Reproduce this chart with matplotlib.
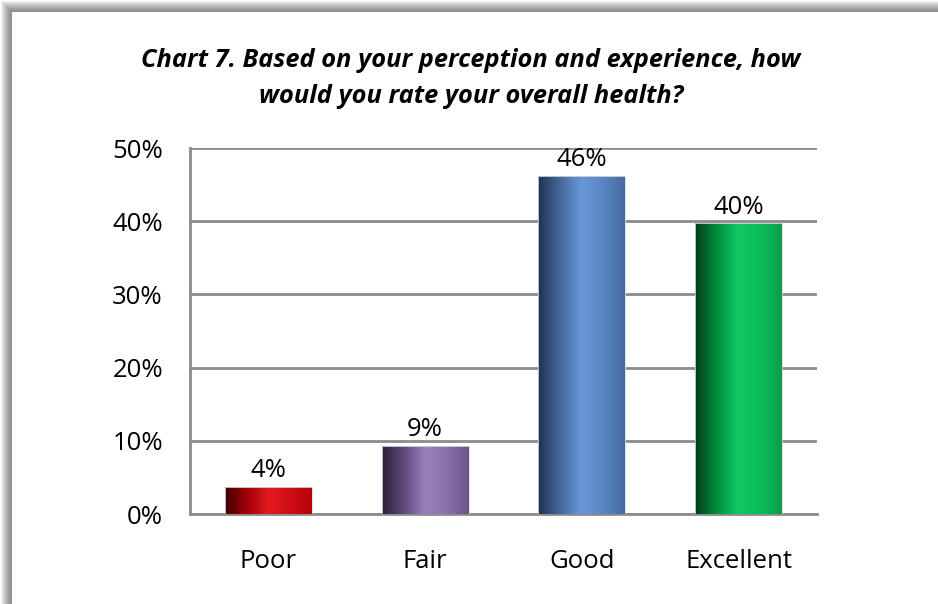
import numpy as np
import matplotlib
matplotlib.use("Agg")
import matplotlib.pyplot as plt
from matplotlib.colors import LinearSegmentedColormap

categories = ["Poor", "Fair", "Good", "Excellent"]
values = [3.7, 9.3, 46.2, 39.7]
labels = ["4%", "9%", "46%", "40%"]
yticks = [0, 10, 20, 30, 40, 50]
ytick_labels = ["0%", "10%", "20%", "30%", "40%", "50%"]
title_lines = ["Chart 7. Based on your perception and experience, how",
               "would you rate your overall health?"]

gradients = [
    ["#3e0000", "#a00008", "#e41a1c", "#d01016", "#b8000c"],
    ["#2a2038", "#5e4a7c", "#9a80be", "#8a70ac", "#6a5488"],
    ["#1e3350", "#44689c", "#6898d8", "#5a86c4", "#46699e"],
    ["#003a16", "#009040", "#12c864", "#0cbc58", "#08a04a"],
]

W, H = 938, 604
fig = plt.figure(figsize=(W / 100, H / 100), dpi=100)
fig.patch.set_facecolor("white")

# inset frame shadow on top and left
img = np.ones((H, W, 3))
band = 12
yy, xx = np.mgrid[0:H, 0:W]
dt = np.clip((band - yy) / band, 0, 1)
dl = np.clip((band - xx) / band, 0, 1)
d = np.maximum(dt, dl)
g = np.where(d > 0, 0.55 + 0.45 * d ** 1.5, 1.0)
img[:] = g[..., None]
fig.figimage(img, xo=0, yo=0, origin="upper", zorder=-10)

ax = fig.add_axes([190 / W, 1 - 514 / H, (817 - 190) / W, (514 - 148) / H])
ax.set_zorder(1)
ax.set_facecolor("none")

x = np.arange(len(categories))
bw = 0.555
bars = ax.bar(x, values, width=bw, color="none", edgecolor="none", zorder=3)
for b, stops in zip(bars, gradients):
    cmap = LinearSegmentedColormap.from_list("g", stops)
    grad = np.linspace(0, 1, 256).reshape(1, -1)
    x0, y0 = b.get_x(), b.get_y()
    w, h = b.get_width(), b.get_height()
    im = ax.imshow(grad, cmap=cmap, aspect="auto", extent=[x0, x0 + w, y0, y0 + h],
                   zorder=3, interpolation="bilinear")
    im.set_clip_path(b)
    ax.add_patch(plt.Rectangle((x0, y0), w, h, fill=False, edgecolor=(0.85, 0.85, 0.9), lw=0.6, zorder=4))
ax.set_xlim(-0.5, len(categories) - 0.5)
ax.set_ylim(0, 50)

font = "Open Sans"
fs = 18.5
for xi, v, lab in zip(x, values, labels):
    ax.annotate(lab, (xi, v), xytext=(0, 6.8), textcoords="offset points",
                ha="center", va="baseline", fontsize=fs, family=font, color="black", zorder=5)

ax.set_yticks(yticks)
ax.set_yticklabels(ytick_labels, fontsize=fs, family=font)
ax.set_xticks(x)
ax.set_xticklabels(categories, fontsize=fs, family=font)
ax.tick_params(axis="y", length=0, pad=19.5)
ax.tick_params(axis="x", length=0, pad=25)
ax.yaxis.grid(True, color="#8c8c8c", lw=2, zorder=1)
ax.set_axisbelow(True)
for s in ["top", "right"]:
    ax.spines[s].set_visible(False)
ax.spines["left"].set_color("#8c8c8c")
ax.spines["left"].set_linewidth(2)
ax.spines["bottom"].set_color("#8c8c8c")
ax.spines["bottom"].set_linewidth(2)

# title: fit font size to the reference line widths
tfs = 16.5
texts = []
for line, base in zip(title_lines, [67, 103]):
    texts.append(fig.text(471 / W, 1 - base / H, line, ha="center", va="baseline", fontsize=tfs,
                          fontweight="bold", fontstyle="italic", family=font))
r = fig.canvas.get_renderer()
wsum = sum(t.get_window_extent(r).width for t in texts)
scale = (668 + 413) / wsum
for t in texts:
    t.set_fontsize(tfs * scale)

fig.savefig("out.png", dpi=100)
